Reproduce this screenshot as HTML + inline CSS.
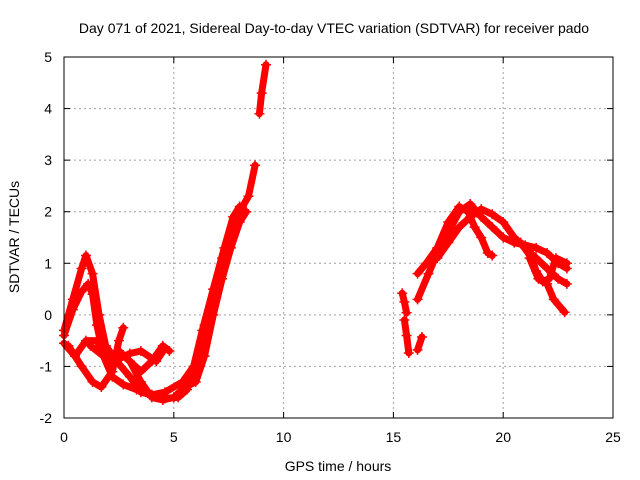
<!DOCTYPE html>
<html><head><meta charset="utf-8"><style>
body{margin:0;background:#fff}
svg{display:block;font-family:"Liberation Sans",sans-serif}
</style></head><body>
<svg id="chart" width="640" height="480">
<text x="334" y="33" font-size="14" text-anchor="middle">Day 071 of 2021, Sidereal Day-to-day VTEC variation (SDTVAR) for receiver pado</text>
<text x="338" y="471" font-size="14" text-anchor="middle">GPS time / hours</text>
<text transform="translate(19,237) rotate(-90)" font-size="14" text-anchor="middle">SDTVAR / TECUs</text>
<g id="grid"></g><g id="ticks"></g><g id="series"></g>
<rect x="64" y="57" width="549" height="361" fill="none" stroke="#000" stroke-width="1"/>
</svg>
<script>
const xTicks=[0,5,10,15,20,25];
const yTicks=[-2,-1,0,1,2,3,4,5];
const traceA=[[0,-0.4],[0.4,0.1],[0.8,0.45],[1.1,0.6],[1.3,0.4],[1.5,-0.2],[1.8,-0.8],[2.2,-1.2],[2.7,-1.35],[3.3,-1.45],[4.0,-1.55],[4.6,-1.62],[5.2,-1.6],[5.6,-1.45],[6.0,-1.0],[6.4,-0.2],[6.8,0.5],[7.2,1.1],[7.6,1.6],[8.0,2.0],[8.4,2.3],[8.7,2.9]];
const traceB=[[0,-0.3],[0.4,0.3],[0.8,0.9],[1.0,1.15],[1.3,0.8],[1.6,0.0],[1.9,-0.6],[2.4,-0.9],[3.0,-1.2],[3.5,-1.5],[4.0,-1.55],[4.6,-1.5],[5.4,-1.3],[5.9,-1.0],[6.3,-0.3],[6.8,0.5],[7.3,1.3],[7.7,1.9],[8.0,2.1]];
const traceC=[[0,-0.55],[0.5,-0.8],[1.0,-0.5],[1.5,-0.5],[2.0,-0.9],[2.5,-0.7],[3.0,-0.9],[3.5,-1.1],[4.0,-0.9],[4.5,-0.6],[4.8,-0.7]];
const traceD=[[0.2,-0.6],[0.8,-1.0],[1.3,-1.3],[1.7,-1.4],[2.2,-1.1],[2.5,-0.5],[2.7,-0.25]];
const traceE=[[2.5,-0.7],[3.0,-0.9],[3.5,-1.3],[4.0,-1.6],[4.5,-1.65],[5.0,-1.6],[5.5,-1.4],[6.0,-1.3],[6.4,-0.8],[6.8,0.0],[7.2,0.7],[7.6,1.3],[8.0,1.8],[8.3,2.0]];
const traceF=[[1.2,-0.6],[1.8,-0.8],[2.3,-0.9],[3.0,-0.75],[3.5,-0.7],[4.2,-0.9],[4.6,-0.65]];
const traceG=[[8.9,3.9],[9.0,4.3],[9.2,4.85]];
const traceH=[[15.4,0.42],[15.5,0.25],[15.6,0.04]];
const traceI=[[15.5,-0.1],[15.6,-0.4],[15.7,-0.74]];
const traceJ=[[16.1,-0.68],[16.3,-0.43]];
const traceR1=[[16.1,0.3],[16.6,0.8],[17.0,1.2],[17.5,1.6],[18.0,2.0],[18.5,2.15],[19.0,1.9],[19.5,1.7],[20.0,1.5],[20.5,1.4],[21.0,1.35],[21.5,1.3],[22.0,1.2],[22.5,1.0],[22.9,0.9]];
const traceR2=[[16.1,0.8],[16.5,1.0],[17.0,1.3],[17.5,1.8],[18.0,2.1],[18.4,2.0],[18.7,1.7],[19.0,1.5],[19.3,1.2],[19.5,1.15]];
const traceR3=[[17.0,1.1],[17.5,1.4],[18.0,1.7],[18.5,1.9],[19.0,2.05],[19.5,1.95],[20.0,1.8],[20.5,1.5],[21.0,1.3],[21.5,1.1],[22.0,0.9],[22.5,0.7],[22.9,0.6]];
const traceR4=[[21.2,1.1],[21.6,0.7],[22.0,0.6],[22.3,0.3],[22.8,0.05]];
const traceR5=[[20.8,1.4],[21.3,1.1],[21.5,0.85],[21.8,0.65],[22.1,0.7],[22.4,1.1],[22.9,1.0]];
const traces=[traceA,traceB,traceC,traceD,traceE,traceF,traceG,traceH,traceI,traceJ,traceR1,traceR2,traceR3,traceR4,traceR5];

const NS="http://www.w3.org/2000/svg";
const X0=64,X1=613,Y0=418,Y1=57;
const sx=v=>X0+(v-0)/(25-0)*(X1-X0);
const sy=v=>Y0-(v+2)/(5+2)*(Y0-Y1);
function mk(tag,at,parent){const e=document.createElementNS(NS,tag);for(const k in at)e.setAttribute(k,at[k]);parent.appendChild(e);return e;}
const grid=document.getElementById('grid'),ticks=document.getElementById('ticks'),ser=document.getElementById('series');
xTicks.forEach(t=>{
  const x=sx(t);
  if(t>0&&t<25){const g=mk('line',{x1:x,x2:x,y1:Y1,y2:Y0,stroke:'#a0a0a0','stroke-dasharray':'2,3'},grid);
  
  }
  mk('line',{x1:x,x2:x,y1:Y0,y2:Y0-6,stroke:'#000'},ticks);
  mk('line',{x1:x,x2:x,y1:Y1,y2:Y1+6,stroke:'#000'},ticks);
  const l=mk('text',{x:x,y:Y0+24,'font-size':14,'text-anchor':'middle'},ticks);l.textContent=t;
  
  
});
yTicks.forEach(t=>{
  const y=sy(t);
  if(t>-2&&t<5){const g=mk('line',{x1:X0,x2:X1,y1:y,y2:y,stroke:'#a0a0a0','stroke-dasharray':'2,3'},grid);
  
  }
  mk('line',{x1:X0,x2:X0+6,y1:y,y2:y,stroke:'#000'},ticks);
  mk('line',{x1:X1,x2:X1-6,y1:y,y2:y,stroke:'#000'},ticks);
  const l=mk('text',{x:X0-12,y:y+5,'font-size':14,'text-anchor':'end'},ticks);l.textContent=t;
  
  
});
traces.forEach((tr,i)=>{
  const pts=tr.map(p=>sx(p[0]).toFixed(1)+','+sy(p[1]).toFixed(1)).join(' ');
  const pl=mk('polyline',{points:pts,fill:'none',stroke:'#ff0000','stroke-width':7,'stroke-linejoin':'round','stroke-linecap':'round'},ser);
  
  
  tr.forEach(p=>{
    const x=sx(p[0]),y=sy(p[1]);
    const m=mk('path',{d:`M${x-5},${y}H${x+5}M${x},${y-5}V${y+5}`,stroke:'#ff0000','stroke-width':1.5},ser);
    
    
  });
});
</script>
</body></html>
